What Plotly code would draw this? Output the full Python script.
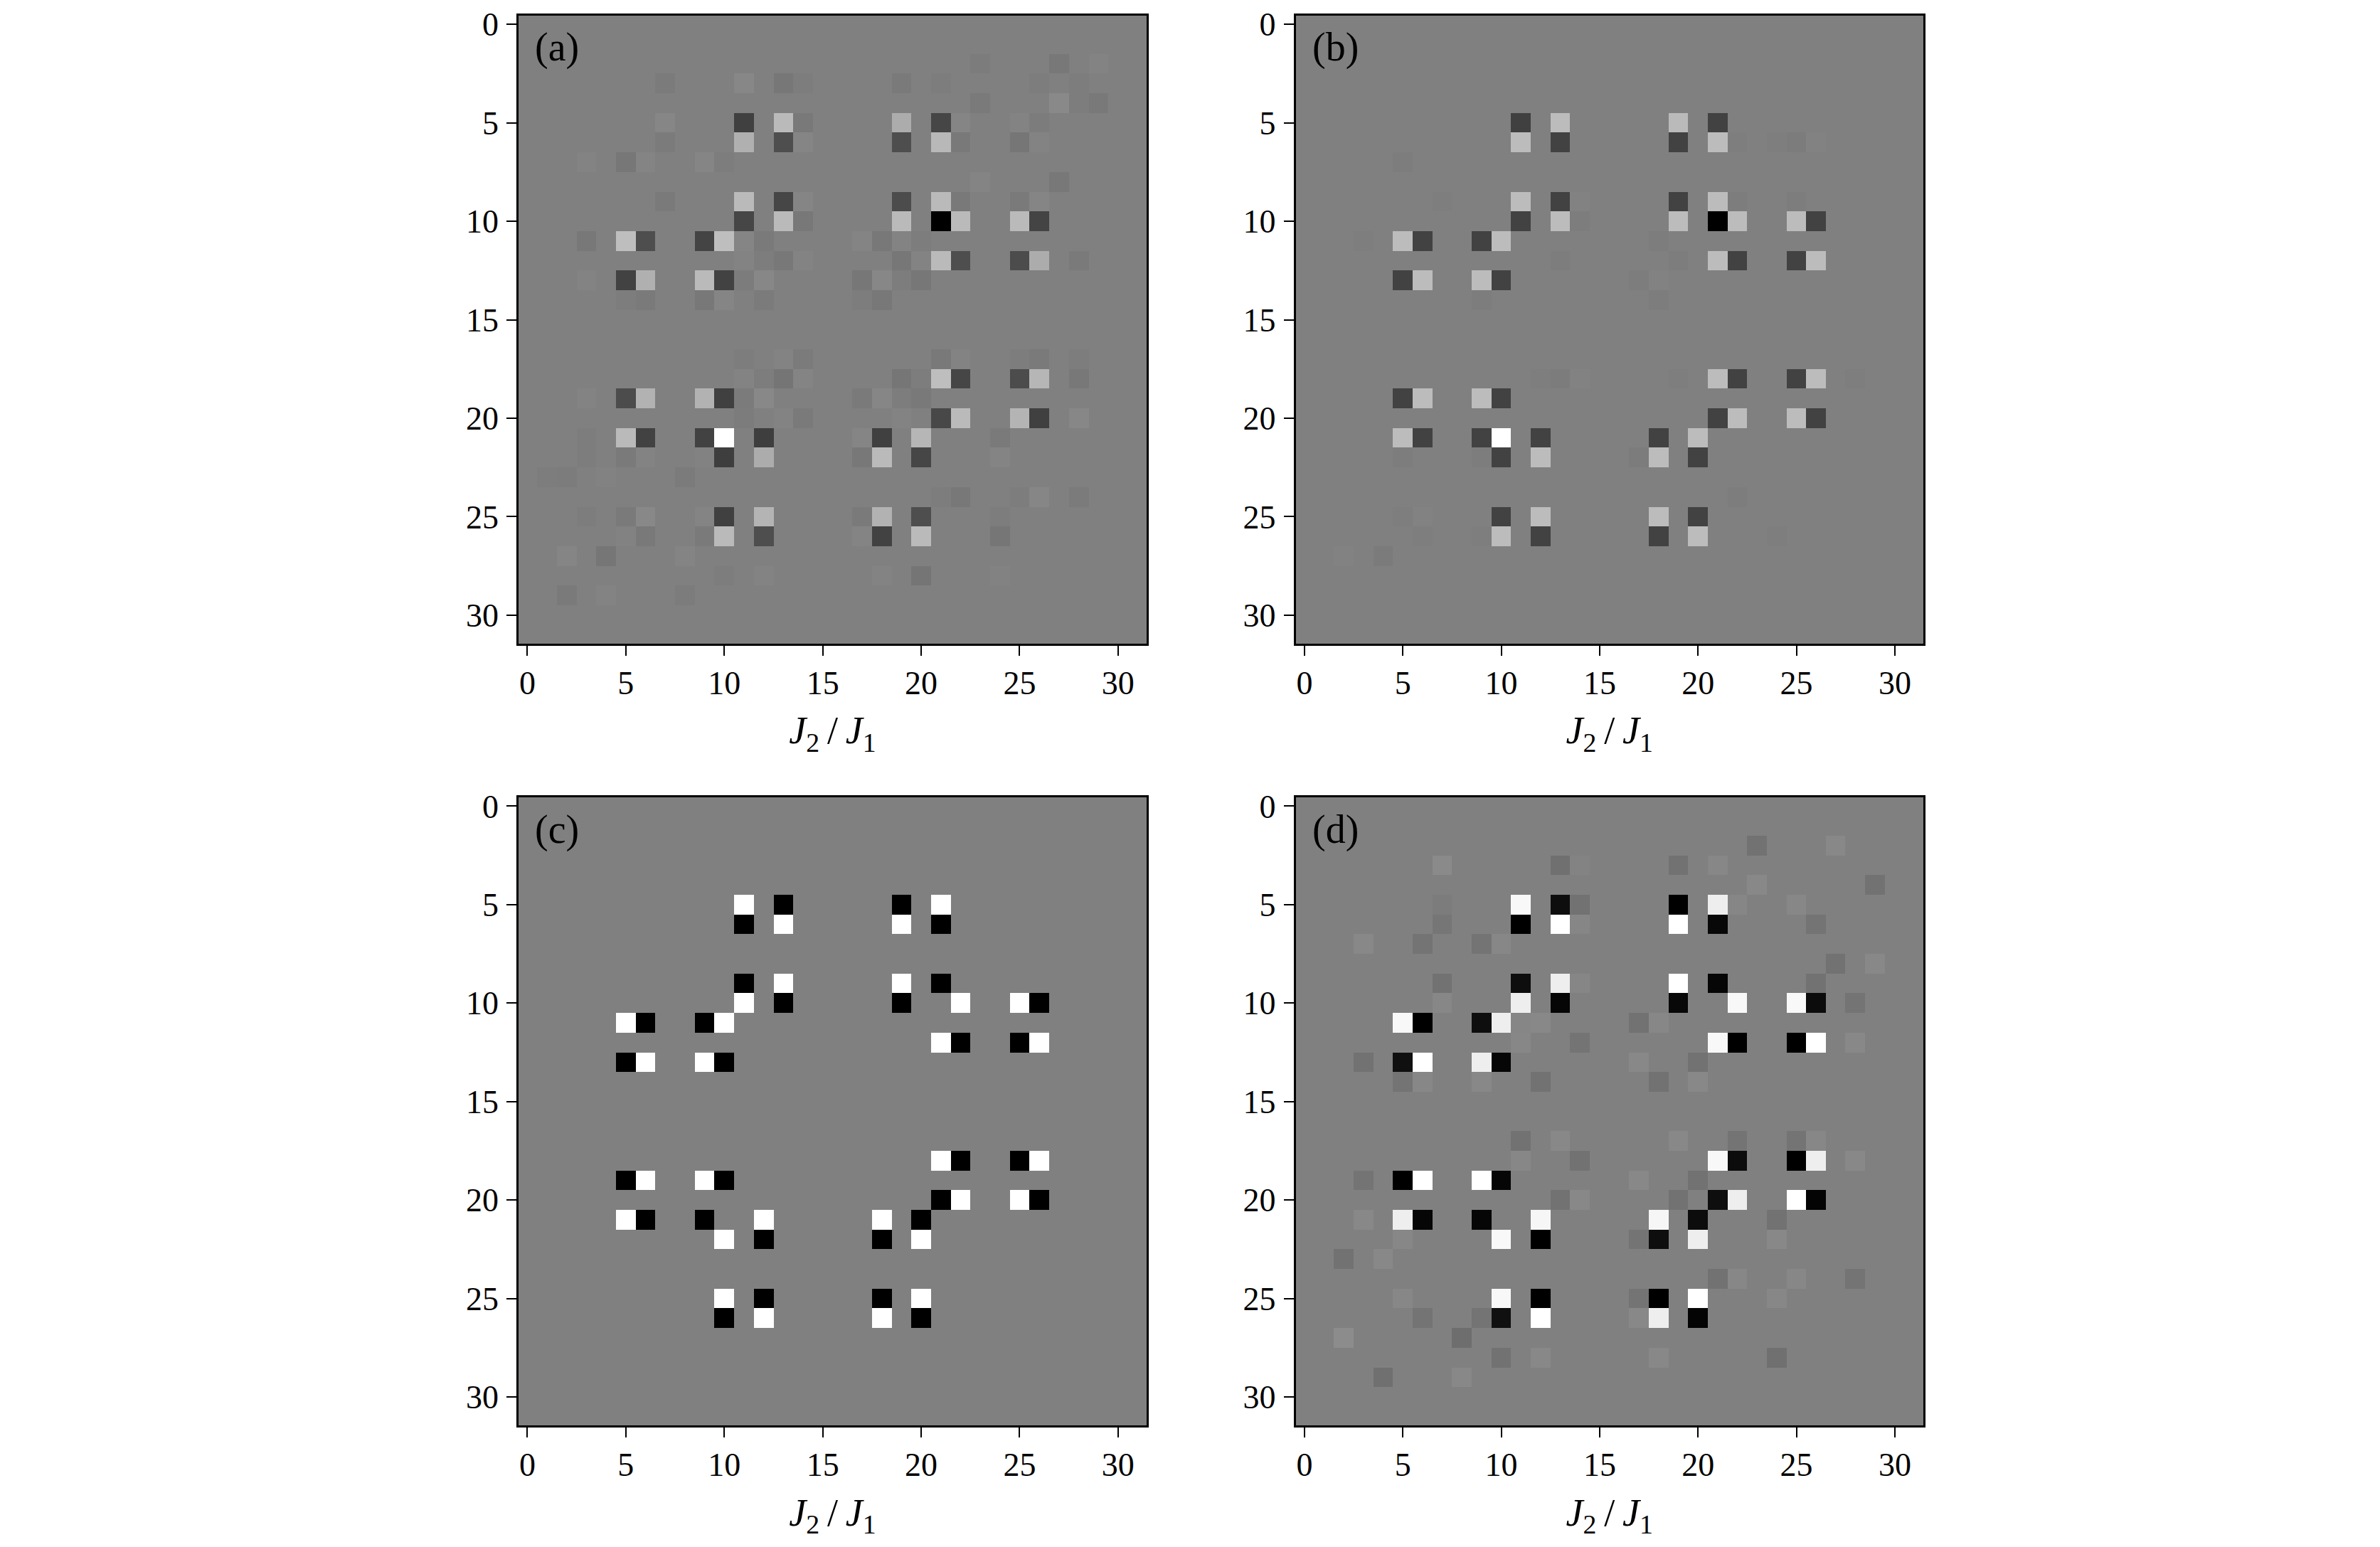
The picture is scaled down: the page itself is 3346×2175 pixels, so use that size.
import plotly.graph_objects as go

# Matrix size and neutral (zero) level of the grey image
N = 32
ZERO = 128
TICKS = [0, 5, 10, 15, 20, 25, 30]
PANEL_LABELS = ["(a)", "(b)", "(c)", "(d)"]

# Non-neutral cells: {row: {column: grey level}}
PANEL_A = {
    2: {23: 124, 27: 120, 29: 131},
    3: {7: 123, 11: 135, 13: 119, 14: 125, 19: 122, 21: 125, 26: 125, 28: 125},
    4: {23: 122, 27: 137, 28: 125, 29: 121},
    5: {7: 134, 11: 64, 13: 186, 14: 121, 19: 172, 21: 70, 22: 133, 25: 131, 26: 124},
    6: {7: 123, 11: 176, 13: 78, 14: 133, 19: 78, 21: 184, 22: 121, 25: 118, 26: 131},
    7: {3: 131, 5: 119, 6: 132, 9: 133, 10: 125},
    8: {23: 132, 27: 120},
    9: {7: 122, 11: 186, 13: 70, 14: 133, 19: 76, 21: 186, 22: 121, 25: 122, 26: 133},
    10: {11: 70, 13: 186, 14: 120, 19: 186, 21: 0, 22: 186, 25: 186, 26: 68},
    11: {3: 120, 5: 190, 6: 78, 9: 68, 10: 190, 11: 133, 12: 122, 17: 132, 18: 120, 19: 131, 20: 125},
    12: {11: 131, 12: 125, 13: 120, 14: 131, 19: 119, 20: 131, 21: 186, 22: 78, 25: 76, 26: 172, 28: 122},
    13: {3: 131, 5: 66, 6: 176, 9: 186, 10: 66, 11: 124, 12: 135, 17: 119, 18: 135, 19: 125, 20: 119},
    14: {5: 125, 6: 122, 9: 120, 10: 133, 12: 123, 17: 125, 18: 120},
    17: {11: 125, 13: 131, 14: 123, 21: 121, 22: 131, 25: 125, 26: 122, 28: 125},
    18: {11: 131, 12: 125, 13: 117, 14: 132, 19: 118, 20: 125, 21: 190, 22: 70, 25: 76, 26: 182, 28: 120},
    19: {3: 131, 5: 76, 6: 178, 9: 178, 10: 64, 11: 123, 12: 136, 17: 122, 18: 134, 19: 125, 20: 121},
    20: {11: 124, 13: 131, 14: 122, 19: 131, 21: 72, 22: 186, 25: 180, 26: 64, 28: 135},
    21: {3: 125, 5: 186, 6: 66, 9: 66, 10: 255, 12: 62, 17: 133, 18: 64, 20: 182, 24: 122},
    22: {3: 125, 5: 122, 6: 131, 9: 130, 10: 62, 12: 172, 17: 120, 18: 186, 20: 70, 24: 132},
    23: {1: 125, 2: 124, 4: 130, 8: 123},
    24: {21: 125, 22: 120, 25: 125, 26: 134, 28: 123},
    25: {3: 125, 5: 122, 6: 136, 9: 132, 10: 64, 12: 180, 17: 122, 18: 178, 20: 78, 24: 125},
    26: {5: 130, 6: 121, 9: 122, 10: 186, 12: 78, 17: 132, 18: 66, 20: 186, 24: 118},
    27: {2: 133, 4: 118, 8: 132},
    28: {10: 125, 12: 131, 18: 131, 20: 117, 24: 130},
    29: {2: 122, 4: 131, 8: 124},
}

PANEL_B = {
    5: {11: 64, 13: 188, 19: 186, 21: 66},
    6: {11: 188, 13: 66, 19: 66, 21: 188, 22: 126, 24: 126, 25: 124, 26: 130},
    7: {5: 125},
    9: {7: 126, 11: 188, 13: 66, 14: 130, 19: 66, 21: 188, 22: 125, 25: 125},
    10: {11: 66, 13: 188, 14: 125, 19: 188, 21: 0, 22: 188, 25: 188, 26: 66},
    11: {3: 126, 5: 188, 6: 66, 9: 66, 10: 188, 18: 125},
    12: {13: 125, 19: 125, 21: 188, 22: 66, 25: 66, 26: 188},
    13: {5: 66, 6: 188, 9: 188, 10: 66, 17: 125, 18: 130},
    14: {9: 125, 18: 125},
    18: {12: 126, 13: 124, 14: 130, 19: 126, 21: 188, 22: 66, 25: 66, 26: 188, 28: 126},
    19: {5: 66, 6: 188, 9: 188, 10: 66},
    20: {21: 66, 22: 188, 25: 188, 26: 66},
    21: {5: 188, 6: 66, 9: 66, 10: 255, 12: 66, 18: 66, 20: 188},
    22: {5: 125, 9: 125, 10: 66, 12: 188, 17: 124, 18: 188, 20: 66},
    24: {22: 125},
    25: {5: 126, 6: 130, 10: 66, 12: 188, 18: 188, 20: 66},
    26: {6: 126, 9: 126, 10: 188, 12: 66, 18: 66, 20: 188, 24: 126},
    27: {2: 130, 4: 123},
}

PANEL_C = {
    5: {11: 255, 13: 0, 19: 0, 21: 255},
    6: {11: 0, 13: 255, 19: 255, 21: 0},
    9: {11: 0, 13: 255, 19: 255, 21: 0},
    10: {11: 255, 13: 0, 19: 0, 22: 255, 25: 255, 26: 0},
    11: {5: 255, 6: 0, 9: 0, 10: 255},
    12: {21: 255, 22: 0, 25: 0, 26: 255},
    13: {5: 0, 6: 255, 9: 255, 10: 0},
    18: {21: 255, 22: 0, 25: 0, 26: 255},
    19: {5: 0, 6: 255, 9: 255, 10: 0},
    20: {21: 0, 22: 255, 25: 255, 26: 0},
    21: {5: 255, 6: 0, 9: 0, 12: 255, 18: 255, 20: 0},
    22: {10: 255, 12: 0, 18: 0, 20: 255},
    25: {10: 255, 12: 0, 18: 0, 20: 255},
    26: {10: 0, 12: 255, 18: 255, 20: 0},
}

PANEL_D = {
    2: {23: 114, 27: 136},
    3: {7: 138, 13: 112, 14: 131, 19: 114, 21: 135},
    4: {23: 136, 29: 114},
    5: {7: 124, 11: 248, 13: 14, 14: 114, 19: 0, 21: 238, 22: 134, 25: 135},
    6: {7: 118, 11: 0, 13: 255, 14: 134, 19: 255, 21: 8, 26: 116},
    7: {3: 136, 6: 116, 9: 116, 10: 135},
    8: {27: 114, 29: 136},
    9: {7: 114, 11: 14, 13: 238, 14: 134, 19: 255, 21: 6, 26: 114},
    10: {7: 135, 11: 238, 13: 6, 19: 8, 22: 248, 25: 248, 26: 12, 28: 116},
    11: {5: 248, 6: 0, 9: 14, 10: 238, 11: 134, 12: 136, 17: 114, 18: 135},
    12: {11: 135, 14: 116, 21: 248, 22: 0, 25: 0, 26: 255, 28: 136},
    13: {3: 114, 5: 16, 6: 255, 9: 238, 10: 6, 17: 136, 20: 114},
    14: {5: 116, 6: 135, 9: 136, 12: 114, 18: 114, 20: 136},
    17: {11: 114, 13: 136, 19: 136, 22: 116, 25: 116, 26: 135},
    18: {11: 135, 14: 114, 21: 248, 22: 12, 25: 0, 26: 238, 28: 136},
    19: {3: 116, 5: 0, 6: 255, 9: 255, 10: 6, 17: 136, 20: 114},
    20: {13: 114, 14: 136, 19: 114, 21: 14, 22: 238, 25: 255, 26: 4},
    21: {3: 136, 5: 238, 6: 6, 9: 6, 12: 246, 18: 246, 20: 12, 24: 114},
    22: {5: 135, 10: 248, 12: 0, 17: 116, 18: 14, 20: 238, 24: 136},
    23: {2: 114, 4: 136},
    24: {21: 114, 22: 135, 25: 135, 28: 116},
    25: {5: 135, 10: 248, 12: 0, 17: 116, 18: 0, 20: 255, 24: 135},
    26: {6: 116, 9: 116, 10: 16, 12: 255, 17: 136, 18: 238, 20: 4},
    27: {2: 140, 8: 110},
    28: {10: 114, 12: 136, 18: 136, 24: 112},
    29: {4: 112, 8: 136},
}

PANELS = [PANEL_A, PANEL_B, PANEL_C, PANEL_D]

# Page layout in pixels
W, H = 3346, 2175
X_SPANS = [(729.0, 1612.0), (1821.5, 2704.0)]
Y_SPANS = [(21.7, 905.0), (1121.0, 2004.2)]
FONT = "Liberation Serif"
X_TITLE = "<i>J</i><sub>2</sub>\u2009/\u2009<i>J</i><sub>1</sub>"


def to_matrix(cells):
    z = [[ZERO] * N for _ in range(N)]
    for r, row in cells.items():
        for c, v in row.items():
            z[r][c] = v
    return z


fig = go.Figure()
annotations = []
for i, (cells, label) in enumerate(zip(PANELS, PANEL_LABELS)):
    n = "" if i == 0 else str(i + 1)
    col, row = i % 2, i // 2
    x0, x1 = X_SPANS[col]
    y0, y1 = Y_SPANS[row]
    fig.add_trace(go.Heatmap(
        z=to_matrix(cells), x=list(range(N)), y=list(range(N)),
        zmin=0, zmax=255, showscale=False,
        colorscale=[[0, "#000000"], [1, "#ffffff"]],
        xaxis="x" + n, yaxis="y" + n,
    ))
    axis = dict(
        showgrid=False, zeroline=False, showline=True, mirror=True,
        linecolor="black", linewidth=2.7,
        ticks="outside", ticklen=14, tickwidth=2.4, tickcolor="black",
        tickmode="array", tickvals=TICKS, ticktext=[str(t) for t in TICKS],
        tickfont=dict(family=FONT, size=46, color="black"),
    )
    fig.layout["xaxis" + n] = dict(
        axis, domain=[x0 / W, x1 / W], range=[-0.45, 31.45],
        anchor="y" + n, ticklabelstandoff=-1,
        title=dict(text=X_TITLE,
                   font=dict(family=FONT, size=54, color="black"), standoff=23),
    )
    fig.layout["yaxis" + n] = dict(
        axis, domain=[1 - y1 / H, 1 - y0 / H], range=[31.45, -0.45],
        anchor="x" + n, ticklabelstandoff=2,
    )
    annotations.append(dict(
        text=label, xref="paper", yref="paper", showarrow=False,
        x=(x0 + 21) / W, y=1 - (y0 + 45) / H, xanchor="left", yanchor="middle",
        font=dict(family=FONT, size=56, color="black"),
    ))

fig.update_layout(
    width=W, height=H, margin=dict(l=0, r=0, t=0, b=0, autoexpand=False),
    paper_bgcolor="white", plot_bgcolor="white",
    showlegend=False, annotations=annotations,
)
fig.write_html("out.html", post_script="document.body.style.margin='0';",
               config={"displayModeBar": False})
